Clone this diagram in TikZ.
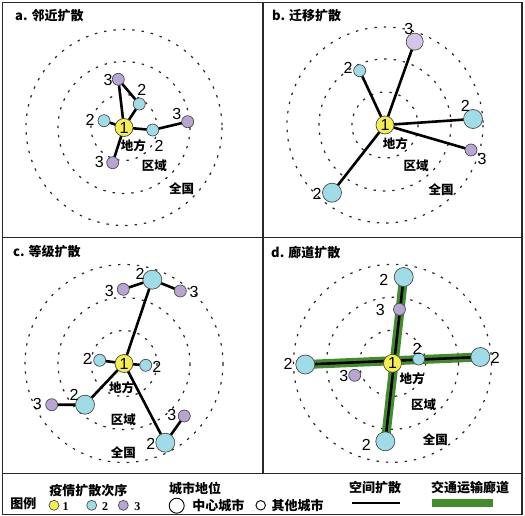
\documentclass[tikz,border=0pt]{standalone}
\usepackage{fontspec}
\newfontfamily\cjk{Noto Sans CJK SC}
\newfontfamily\numf{Liberation Sans}
\newfontfamily\serf{Liberation Serif}
\definecolor{cy}{RGB}{244,238,78}
\definecolor{cb}{RGB}{160,220,232}
\definecolor{cp}{RGB}{184,165,211}
\definecolor{cpl}{RGB}{214,196,230}
\definecolor{corrg}{RGB}{66,140,44}
\definecolor{frame}{RGB}{40,40,40}
\pgfdeclarelayer{back}
\pgfdeclarelayer{mid}
\pgfsetlayers{back,mid,main}
\tikzset{
  ring/.style={draw=black!85, line width=1.2pt, dash pattern=on 2.4pt off 7pt},
  link/.style={line width=2.6pt, black},
  corr/.style={line width=9pt, corrg},
  city/.style={circle, draw=black!70, line width=0.7pt, inner sep=0pt},
  ca/.style={city, fill=cy, minimum size=18pt, font=\numf\fontsize{16}{16}\selectfont},
  cbs/.style={city, fill=cb, minimum size=12pt},
  cbb/.style={city, fill=cb, minimum size=19pt},
  cps/.style={city, fill=cp, minimum size=12pt},
  cpb/.style={city, fill=cpl, minimum size=17pt},
  num/.style={font=\numf\fontsize{16}{16}\selectfont, inner sep=0pt, text=black},
  lvl/.style={font=\cjk\bfseries\fontsize{12.5}{12.5}\selectfont, inner sep=0pt},
  ttl/.style={font=\cjk\bfseries\fontsize{13}{13}\selectfont, anchor=west, inner sep=0pt},
  leg/.style={font=\cjk\bfseries\fontsize{13}{13}\selectfont, inner sep=0pt},
  legn/.style={font=\serf\bfseries\fontsize{12}{12}\selectfont, inner sep=0pt},
  border/.style={draw=frame, line width=1.8pt}
}
\begin{document}
\begin{tikzpicture}[x=1pt,y=-1pt]
\useasboundingbox (0,0) rectangle (525,516);
% frame
\draw[border] (2.5,2.5) rectangle (522,514.5);
\draw[border] (263,2.5) -- (263,473.5);
\draw[border] (2.5,237.5) -- (522,237.5);
\draw[border] (2.5,473.5) -- (522,473.5);

% titles
\node[ttl] (ta) at (15,16) {a. 邻近扩散};
\node[ttl] (tb) at (272,16) {b. 迁移扩散};
\node[ttl] (tc) at (13,252) {c. 等级扩散};
\node[ttl] (td) at (271,252.5) {d. 廊道扩散};

% ===== panel a =====
\node[ca] (a1) at (124,127.5) {1};
\node[cps] (a3t) at (118.3,79.3) {};
\node[cbs] (a2u) at (139.3,104) {};
\node[cbs] (a2l) at (104,120.7) {};
\node[cbs] (a2r) at (152.7,130) {};
\node[cps] (a3r) at (187.7,121.7) {};
\node[cps] (a3b) at (112.7,162.7) {};
\begin{pgfonlayer}{back}
\foreach \r in {33,66,98} \draw[ring] (a1.center) circle[radius=\r];
\end{pgfonlayer}
\begin{pgfonlayer}{mid}
\draw[link] (a1.center) -- (a3t.center) -- (a2u.center) -- (a1.center);
\draw[link] (a1.center) -- (a2l.center);
\draw[link] (a1.center) -- (a2r.center) -- (a3r.center);
\draw[link] (a1.center) -- (a3b.center);
\end{pgfonlayer}
\node[num] (la1) at (108,80) {3};
\node[num] (la2) at (141.7,90) {2};
\node[num] (la3) at (90,120) {2};
\node[num] (la4) at (176.7,114) {3};
\node[num] (la5) at (159,146) {2};
\node[num] (la6) at (99.3,162.3) {3};
\node[lvl] (pa1) at (133.3,145.7) {地方};
\node[lvl] (pa2) at (154.3,165.7) {区域};
\node[lvl] (pa3) at (181.7,189) {全国};

% ===== panel b =====
\node[ca] (b1) at (385,125) {1};
\node[cpb] (b3t) at (414.7,41.7) {};
\node[cbs] (b2u) at (359.7,70.7) {};
\node[cbb] (b2r) at (473,119) {};
\node[cps] (b3r) at (471,150) {};
\node[cbb] (b2l) at (332,192.7) {};
\begin{pgfonlayer}{back}
\foreach \r in {33,66,98} \draw[ring] (b1.center) circle[radius=\r];
\end{pgfonlayer}
\begin{pgfonlayer}{mid}
\draw[link] (b1.center) -- (b3t.center);
\draw[link] (b1.center) -- (b2u.center);
\draw[link] (b1.center) -- (b2r.center);
\draw[link] (b1.center) -- (b3r.center);
\draw[link] (b1.center) -- (b2l.center);
\end{pgfonlayer}
\node[num] (lb1) at (408.7,29.3) {3};
\node[num] (lb2) at (348,68.3) {2};
\node[num] (lb3) at (465.3,106) {2};
\node[num] (lb4) at (482,159.3) {3};
\node[num] (lb5) at (317,194) {2};
\node[lvl] (pb1) at (395.3,144) {地方};
\node[lvl] (pb2) at (416,165.7) {区域};
\node[lvl] (pb3) at (441,189.3) {全国};

% ===== panel c =====
\node[ca] (c1) at (124,363.5) {1};
\node[cbb] (c2t) at (152.3,279.7) {};
\node[cps] (c3tl) at (123.3,289.3) {};
\node[cps] (c3tr) at (180.3,291) {};
\node[cbs] (c2l) at (99.7,360.3) {};
\node[cbs] (c2r) at (145.7,365.3) {};
\node[cbb] (c2bl) at (85,404.7) {};
\node[cps] (c3bl) at (51.7,404.7) {};
\node[cbb] (c2br) at (165.3,442.7) {};
\node[cps] (c3br) at (184.3,416) {};
\begin{pgfonlayer}{back}
\foreach \r in {33,66,99} \draw[ring] (c1.center) circle[radius=\r];
\end{pgfonlayer}
\begin{pgfonlayer}{mid}
\draw[link] (c1.center) -- (c2t.center);
\draw[link] (c3tl.center) -- (c2t.center) -- (c3tr.center);
\draw[link] (c2l.center) -- (c1.center) -- (c2r.center);
\draw[link] (c1.center) -- (c2bl.center) -- (c3bl.center);
\draw[link] (c1.center) -- (c2br.center) -- (c3br.center);
\end{pgfonlayer}
\node[num] (lc1) at (140,273.7) {2};
\node[num] (lc2) at (109.3,291) {3};
\node[num] (lc3) at (194,292) {3};
\node[num] (lc4) at (87.3,358.7) {2};
\node[num] (lc5) at (156.7,367) {2};
\node[num] (lc6) at (74,395.3) {2};
\node[num] (lc7) at (37.3,404.3) {3};
\node[num] (lc8) at (171.7,414.7) {3};
\node[num] (lc9) at (150.7,444.3) {2};
\node[lvl] (pc1) at (121.7,387.7) {地方};
\node[lvl] (pc2) at (123.3,419.7) {区域};
\node[lvl] (pc3) at (123.3,452.7) {全国};

% ===== panel d =====
\node[ca] (d1) at (392.5,363.3) {1};
\node[cbb] (d2t) at (403.7,277) {};
\node[cps] (d3t) at (399.5,309.3) {};
\node[cbb] (d2l) at (305.3,364.5) {};
\node[cbb] (d2r) at (480.3,357) {};
\node[cbs] (d2s) at (418.7,359) {};
\node[cps] (d3l) at (354.7,375.3) {};
\node[cbb] (d2b) at (385.3,441.3) {};
\begin{pgfonlayer}{back}
\foreach \r in {33,66,99} \draw[ring] (d1.center) circle[radius=\r];
\draw[corr] (d2l.center) -- (d2r.center);
\draw[corr] (d2t.center) -- (d2b.center);
\end{pgfonlayer}
\begin{pgfonlayer}{mid}
\draw[link] (d2l.center) -- (d2r.center);
\draw[link] (d2t.center) -- (d2b.center);
\end{pgfonlayer}
\node[num] (ld1) at (383.7,279.7) {2};
\node[num] (ld2) at (380.3,310.3) {3};
\node[num] (ld3) at (288,363.7) {2};
\node[num] (ld4) at (495.3,357.7) {2};
\node[num] (ld5) at (417,349.3) {2};
\node[num] (ld6) at (343.7,376) {3};
\node[num] (ld7) at (366.3,445.3) {2};
\node[lvl] (pd1) at (412,378.7) {地方};
\node[lvl] (pd2) at (423.7,404.7) {区域};
\node[lvl] (pd3) at (435.3,439.3) {全国};

% ===== legend =====
\node[leg] (lgT) at (23.3,504) {图例};
\node[leg] (lgA) at (88.3,490.3) {疫情扩散次序};
\node[city, fill=cy, minimum size=10pt] (lg1) at (54,505.3) {};
\node[legn] (lgn1) at (65.7,506.3) {1};
\node[city, fill=cb, minimum size=10pt] (lg2) at (91.7,505.3) {};
\node[legn] (lgn2) at (105,506.3) {2};
\node[city, fill=cp, minimum size=10pt] (lg3) at (123.3,505.3) {};
\node[legn] (lgn3) at (137.3,506.3) {3};
\node[leg] (lgB) at (195,488) {城市地位};
\node[city, draw=black, line width=0.9pt, fill=white, minimum size=15pt] (lgc) at (176.7,505.7) {};
\node[leg] (lgB1) at (218.3,505.7) {中心城市};
\node[city, draw=black, line width=0.9pt, fill=white, minimum size=9.5pt] (lgo) at (260.7,505.3) {};
\node[leg] (lgB2) at (297.7,505.7) {其他城市};
\node[leg] (lgC) at (375,488) {空间扩散};
\coordinate (lgL1) at (351.7,503);
\coordinate (lgL2) at (400,503);
\draw[link] (lgL1) -- (lgL2);
\node[leg] (lgD) at (470,488) {交通运输廊道};
\node[draw=none, fill=corrg, minimum width=61pt, minimum height=8.6pt, inner sep=0pt] (lgbar) at (462.2,503) {};
\end{tikzpicture}
\end{document}
